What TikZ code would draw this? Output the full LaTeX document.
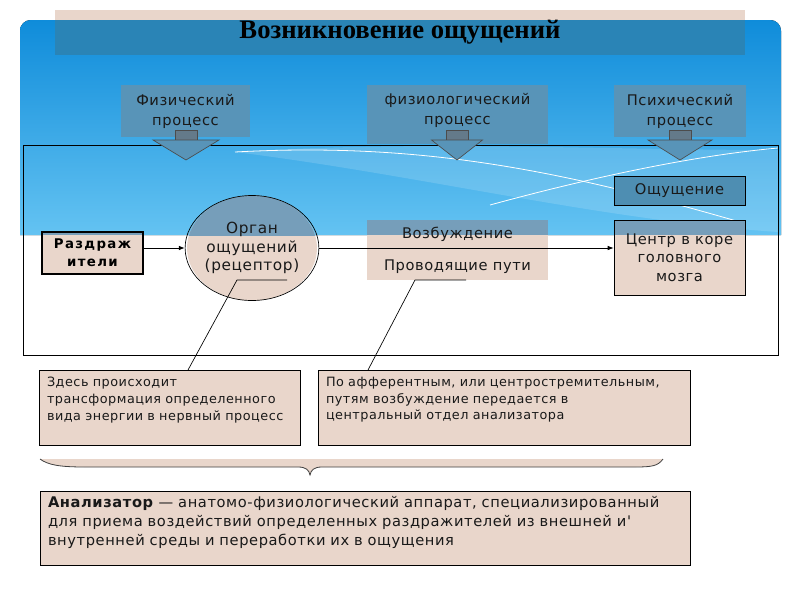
\documentclass[tikz,border=0pt]{standalone}
\usepackage{fontspec}
\setmainfont{DejaVu Sans}
\newfontfamily\slidefont[LetterSpace=4]{DejaVu Sans}
\newfontfamily\spacedfont[LetterSpace=10]{DejaVu Sans}
\newfontfamily\titlefont{Liberation Serif}
\usetikzlibrary{shapes.geometric}
\usetikzlibrary{arrows.meta}
\usetikzlibrary{backgrounds}
\definecolor{boxpink}{RGB}{233,214,203}
\definecolor{bandtop}{RGB}{15,140,218}
\definecolor{bandbot}{RGB}{100,195,242}
\definecolor{steeltitle}{RGB}{42,132,182}
\definecolor{steelmid}{RGB}{88,148,184}
\definecolor{steeldeep}{RGB}{78,142,178}
\definecolor{steellow}{RGB}{118,158,186}
\definecolor{shaftgray}{RGB}{100,122,138}
\definecolor{inktext}{RGB}{25,25,25}

\tikzset{
  pinkbox/.style={inner sep=0pt, align=center, text=inktext,
    font=\slidefont\fontsize{11}{15}\selectfont},
  framedbox/.style={pinkbox, draw=black, line width=0.6pt},
  notebox/.style={fill=boxpink, draw=black, line width=0.5pt, anchor=north,
    inner xsep=6pt, inner ysep=5pt, align=left, text=inktext},
  flowline/.style={-{Latex[length=4.5pt,width=3.5pt]}, line width=0.6pt},
  pics/downarrow/.style={code={
    \filldraw[fill=shaftgray, draw=black!70, line width=0.5pt] (-11,0) rectangle (11,10);
    \filldraw[fill=steelmid, draw=black!70, line width=0.5pt]
      (-#1,10) -- (#1,10) -- (0,30) -- cycle;
  }},
  pics/downarrow/.default=32
}

\begin{document}
\begin{tikzpicture}[x=0.75pt, y=-0.75pt]
  \useasboundingbox (0,0) rectangle (800,600);
  \coordinate (bandnw) at (20,20);
  \coordinate (bandse) at (781,235);

  % title and frame
  \node[pinkbox, minimum width=517.5pt, minimum height=33.75pt,
    font=\titlefont\bfseries\fontsize{20}{24}\selectfont, text=black] (title) at (400,32.5) {Возникновение ощущений};
  \draw[line width=0.6pt] (23,145) rectangle (778,355);

  % three kinds of process
  \node[pinkbox, minimum width=96.75pt, minimum height=39pt] (phys) at (185.5,111) {Физический\\процесс};
  \node[pinkbox, minimum width=135.75pt, minimum height=44.25pt, text depth=8pt] (physio) at (457.5,114.5) {физиологический\\процесс};
  \node[pinkbox, minimum width=99pt, minimum height=39pt] (psych) at (680,111) {Психический\\процесс};
  \pic at (186,130) {downarrow=33};
  \pic at (457,130) {downarrow=25.5};
  \pic at (680,130) {downarrow=32};

  % chain of the analyser
  \node[framedbox, line width=1.4pt, minimum width=75.75pt, minimum height=31.5pt,
    font=\spacedfont\bfseries\fontsize{10}{13.5}\selectfont, text=black] (stimuli) at (92.5,253) {Раздраж\\ители};
  \node[pinkbox, draw=black, line width=0.5pt, ellipse, minimum width=97.5pt, minimum height=78.75pt,
    font=\slidefont\fontsize{11.5}{13.9}\selectfont] (organ) at (252,248) {Орган\\ощущений\\(рецептор)};
  \node[pinkbox, minimum width=135.75pt, minimum height=45pt] (excite) at (457.5,250) {Возбуждение\\[9pt]Проводящие пути};
  \node[framedbox, minimum width=98.25pt, minimum height=21.75pt] (sensation) at (679.5,190.5) {Ощущение};
  \node[framedbox, minimum width=98.25pt, minimum height=56.25pt,
    font=\slidefont\fontsize{11}{13.9}\selectfont] (cortex) at (679.5,257.5) {Центр в коре\\головного\\мозга};

  \draw[flowline] (stimuli.east |- organ) -- (organ.west);
  \draw[flowline] (organ.east) -- (organ.east -| cortex.west);

  % white page, blue band and box fills behind everything
  \begin{scope}[on background layer]
    \fill[white] (0,0) rectangle (800,600);
    \fill[top color=bandtop, bottom color=bandbot]
      (20,235) {[rounded corners=8] -- (bandnw) -- (781,20)} -- (bandse) -- cycle;
    \fill[white, opacity=0.15] (235,152) .. controls (420,140) and (600,150) .. (778,150)
      -- (778,232) .. controls (600,220) and (420,175) .. (235,152) -- cycle;
    \draw[white, line width=0.6pt] (235,152) .. controls (420,142) and (560,170) .. (740,222);
    \draw[white, line width=0.6pt] (490,205) .. controls (600,175) and (700,155) .. (778,148);
    \fill[boxpink] (title.north west) rectangle (title.south east);
    \fill[steeltitle] (title.west |- bandnw) rectangle (title.south east);
    \foreach \n in {phys,physio,psych}
      \fill[steelmid] (\n.north west) rectangle (\n.south east);
    \fill[steeldeep] (sensation.north west) rectangle (sensation.south east);
    % boxes that cross the lower edge of the band
    \fill[boxpink] (42,232) rectangle (143,274);
    \fill[boxpink] (367,220) rectangle (548,280);
    \fill[boxpink] (614,220) rectangle (745,295);
    \fill[steellow] (42,232) rectangle (143,235);
    \fill[steellow] (367,220) rectangle (548,235);
    \fill[steellow] (614,220) rectangle (745,235);
    \fill[boxpink] (organ.center) ellipse [x radius=48.75pt, y radius=39.375pt];
    \begin{scope}
      \clip (180,185) rectangle (325,235);
      \fill[steellow] (organ.center) ellipse [x radius=48.75pt, y radius=39.375pt];
    \end{scope}
  \end{scope}

  % notes
  \node[notebox, text width=183.75pt, text depth=39pt,
    font=\slidefont\fontsize{9.6}{12.6}\selectfont] (note1) at (169.5,370)
    {Здесь происходит\\трансформация определенного\\вида энергии в нервный процесс};
  \node[notebox, text width=267pt, text depth=39pt,
    font=\slidefont\fontsize{9.6}{12.6}\selectfont] (note2) at (504,370)
    {По афферентным, или центростремительным,\\путям возбуждение передается в\\центральный отдел анализатора};

  \coordinate (hook1) at (237,280);
  \coordinate (hook1end) at (287,280);
  \coordinate (hook2) at (415,280);
  \coordinate (hook2end) at (466,280);
  \draw[line width=0.5pt] (hook1end) -- (hook1) -- (note1.north -| 188,0);
  \draw[line width=0.5pt] (hook2end) -- (hook2) -- (note2.north -| 368,0);

  % brace and definition
  \filldraw[fill=boxpink, draw=black!75, line width=0.6pt]
    (40,459) .. controls (48,465) and (60,467) .. (85,467) -- (298,467)
    .. controls (306,467) and (309,470) .. (310,475)
    .. controls (311,470) and (314,467) .. (322,467) -- (635,467)
    .. controls (652,467) and (658,466) .. (663,459);
  \node[notebox, text width=475.5pt, inner ysep=4pt, text depth=39.5pt,
    font=\slidefont\fontsize{11}{14}\selectfont] (analyzer) at (365,491)
    {\textbf{Анализатор} — анатомо-физиологический аппарат, специализированный\\для приема воздействий определенных раздражителей из внешней и'\\внутренней среды и переработки их в ощущения};
\end{tikzpicture}
\end{document}
